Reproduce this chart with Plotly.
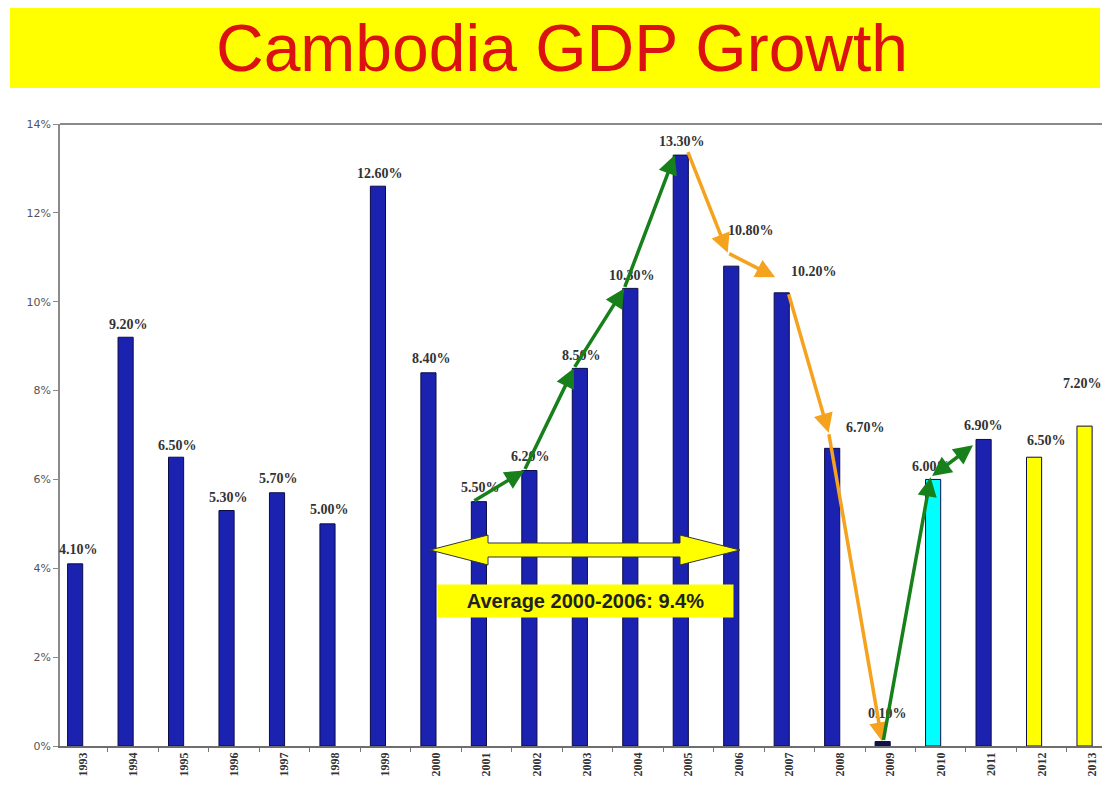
import plotly.graph_objects as go

# ---------------- data ----------------
years = ["1993", "1994", "1995", "1996", "1997", "1998", "1999", "2000", "2001", "2002",
         "2003", "2004", "2005", "2006", "2007", "2008", "2009", "2010", "2011", "2012", "2013"]
growth = [4.1, 9.2, 6.5, 5.3, 5.7, 5.0, 12.6, 8.4, 5.5, 6.2,
          8.5, 10.3, 13.3, 10.8, 10.2, 6.7, 0.1, 6.0, 6.9, 6.5, 7.2]
bar_colors = ["#1C22B0"] * 16 + ["#10104A", "#00FFFF", "#1C22B0", "#FFFF00", "#FFFF00"]
title_text = "Cambodia GDP Growth"
avg_text = "Average 2000-2006: 9.4%"

# label placement tweaks (pixels): horizontal shift, height of label centre above bar top
label_dx = [-4, -5, -6, -6, -6, -6, -6, -5, -6, -6, -6, -6, -6, 12, 25, 26, -3, -9, -8, 5, -10]
label_dy = [14, 13, 12, 13, 14, 14, 13, 14, 14, 14, 13, 13, 14, 36, 21, 21, 28, 13, 14, 17, 43]

# trend arrows: (from year, to year, colour, tail dx, tail dy, head dx, head dy, double)
GREEN = "#17801A"
ORANGE = "#F5A21E"
arrows = [
    ("2001", "2002", GREEN, -0.27, 0.0, -0.25, 0.0, False),
    ("2002", "2003", GREEN, -0.25, 0.0, -0.27, 0.0, False),
    ("2003", "2004", GREEN, -0.27, 0.0, -0.27, 0.0, False),
    ("2004", "2005", GREEN, -0.27, 0.0, -0.27, 0.0, False),
    ("2005", "2006", ORANGE, -0.02, 0.1, -0.22, 0.3, False),
    ("2006", "2007", ORANGE, -0.22, 0.3, -0.28, 0.35, False),
    ("2007", "2008", ORANGE, -0.02, 0.0, -0.22, 0.35, False),
    ("2008", "2009", ORANGE, -0.22, 0.35, -0.16, 0.0, False),
    ("2009", "2010", GREEN, -0.14, 0.0, -0.2, 0.05, False),
    ("2010", "2011", GREEN, -0.2, 0.05, -0.36, -0.13, True),
]

# ---------------- layout constants ----------------
BODY = 8                      # default page margin around the plot div
PLOT_L, PLOT_T, PLOT_B = 60, 124, 746   # plot area on the page (pixels)
W, H = 1110 - 2 * BODY, 789 - BODY
ML, MR, MT = PLOT_L - BODY, 0, PLOT_T - BODY
PW = W - ML - MR
PH = PLOT_B - PLOT_T
MB = H - MT - PH


def paper(xp, yp):
    """page pixel -> paper fraction"""
    return (xp - PLOT_L) / PW, (PLOT_B - yp) / PH


fig = go.Figure()
fig.add_trace(go.Bar(
    x=years, y=growth,
    marker=dict(color=bar_colors, line=dict(color="#0B0B45", width=1)),
    width=0.3, offset=-0.3,
    hoverinfo="x+y",
))

annotations = []
# value labels
for i, v in enumerate(growth):
    annotations.append(dict(
        x=i, y=v, xref="x", yref="y", text=f"{v:.2f}%", showarrow=False,
        xanchor="center", yanchor="middle", xshift=label_dx[i], yshift=label_dy[i],
        font=dict(family="Liberation Serif", size=14, color="#333333", weight="bold"),
    ))

# trend arrows
idx = {y: i for i, y in enumerate(years)}
for a, b, col, tdx, tdy, hdx, hdy, dbl in arrows:
    annotations.append(dict(
        x=idx[b] + hdx, y=growth[idx[b]] + hdy,
        ax=idx[a] + tdx, ay=growth[idx[a]] + tdy,
        xref="x", yref="y", axref="x", ayref="y",
        text="", showarrow=True, arrowhead=2, arrowsize=1.1, arrowwidth=3.5,
        arrowcolor=col, standoff=0, startstandoff=0,
        arrowside="end+start" if dbl else "end", startarrowhead=2, startarrowsize=1.1,
    ))

# title
tx, ty = paper(562, 48)
annotations.append(dict(
    x=tx, y=ty, xref="paper", yref="paper", text=title_text, showarrow=False,
    xanchor="center", yanchor="middle",
    font=dict(family="Liberation Sans", size=66, color="#DC1212"),
))

# average box
ax_, ay_ = paper(585, 601)
annotations.append(dict(
    x=ax_, y=ay_, xref="paper", yref="paper", text=avg_text, showarrow=False,
    xanchor="center", yanchor="middle", bgcolor="#FFFF00", width=291, height=28, borderpad=2,
    font=dict(family="Liberation Sans", size=20, color="#222222", weight="bold"),
))

shapes = []
# title banner
bx0, by0 = paper(10, 88)
bx1, by1 = paper(1100, 7)
shapes.append(dict(type="rect", xref="paper", yref="paper", x0=bx0, y0=by0, x1=bx1, y1=by1,
                   fillcolor="#FFFF00", line=dict(width=0), layer="below"))
# top border line of plot area (runs to the page edge)
lx1, _ = paper(1110, 0)
shapes.append(dict(type="line", xref="paper", yref="paper", x0=0, x1=lx1, y0=1, y1=1,
                   line=dict(color="#8A8A8A", width=2)))
# yellow double-headed block arrow
pts = [(430, 550), (488, 535), (488, 543), (680, 543), (680, 535), (740, 550),
       (680, 565), (680, 557), (488, 557), (488, 565)]
path = ""
for k, (xp, yp) in enumerate(pts):
    px_, py_ = paper(xp, yp)
    path += ("M" if k == 0 else "L") + f"{px_:.5f},{py_:.5f} "
path += "Z"
shapes.append(dict(type="path", xref="paper", yref="paper", path=path,
                   fillcolor="#FFFF00", line=dict(color="#333333", width=1)))

# category scale: ~50.47 px per category, left boundary of 1993 at x=57.5
CAT_PX = 50.47
x_start = -0.45
x_end = x_start + PW / CAT_PX

fig.update_layout(
    width=W, height=H,
    margin=dict(l=ML, r=MR, t=MT, b=MB),
    paper_bgcolor="white", plot_bgcolor="white",
    showlegend=False,
    annotations=annotations,
    shapes=shapes,
    xaxis=dict(
        type="category", range=[x_start, x_end],
        showline=True, linecolor="#6E6E6E", linewidth=1.5,
        ticks="outside", tickson="boundaries", ticklen=4, tickcolor="#777777",
        tickangle=-90, showgrid=False,
        tickfont=dict(family="Liberation Serif", size=12, color="#333333", weight="bold"),
    ),
    yaxis=dict(
        range=[0, 14], dtick=2, ticksuffix="%",
        showline=True, linecolor="#8A8A8A", linewidth=1.5,
        ticks="outside", ticklen=5, tickcolor="#8A8A8A", showgrid=False, zeroline=False,
        tickfont=dict(family="DejaVu Sans", size=11, color="#555555"),
    ),
)

fig.write_html("out.html")
